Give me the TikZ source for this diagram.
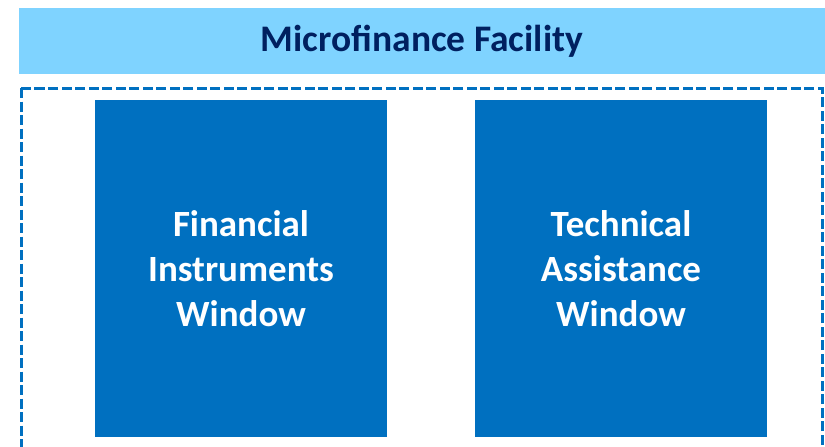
\documentclass[tikz,border=0pt]{standalone}
\usepackage{fontspec}
\setmainfont{Carlito}
\definecolor{bannerblue}{RGB}{127,211,255}
\definecolor{boxblue}{RGB}{0,112,192}
\definecolor{navy}{RGB}{0,32,96}
\begin{document}
\begin{tikzpicture}[x=1pt,y=-1pt,
  windowbox/.style={fill=boxblue,draw=none,minimum width=292pt,minimum height=337pt,inner sep=0pt,
    text=white,font=\fontsize{37}{45}\selectfont\bfseries,align=center},
  framebox/.style={draw=boxblue,line width=3pt,dash pattern=on 10pt off 3.5pt}]
\clip (0,0) rectangle (825,447);
\fill[white] (0,0) rectangle (825,447);
\node[fill=bannerblue,minimum width=806pt,minimum height=66pt,inner sep=0pt,anchor=north west] (banner) at (19,8) {};
\node[text=navy,font=\fontsize{37.5}{44}\selectfont\bfseries,anchor=base] (title) at (422,51) {Microfinance Facility};
\coordinate (frameNW) at (21,88);
\coordinate (frameSE) at (822,480);
\draw[framebox] (frameNW) rectangle (frameSE);
\node[windowbox] (fin) at (241,268.5) {Financial\\Instruments\\Window};
\node[windowbox] (tech) at (621,268.5) {Technical\\Assistance\\Window};
\end{tikzpicture}
\end{document}
